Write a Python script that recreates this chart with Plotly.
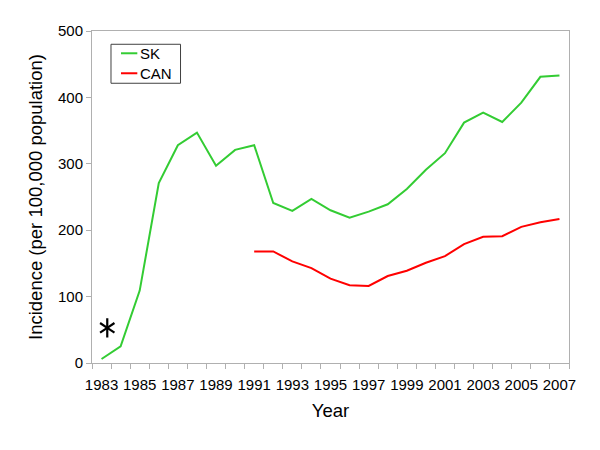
import plotly.graph_objects as go

years = list(range(1983, 2008))
sk = [6, 25, 109, 271, 328, 347, 297, 321, 328, 241, 229, 247, 230, 219, 228, 239,
      262, 291, 316, 362, 377, 363, 392, 431, 433]
can_years = list(range(1991, 2008))
can = [168, 168, 153, 143, 127, 117, 116, 131, 139, 151, 161, 179, 190, 191, 205, 212, 217]
star_x = [1983.3]
star_y = [53]
xtick_labels = [str(y) for y in range(1983, 2008, 2)]
ytick_vals = [0, 100, 200, 300, 400, 500]
series_names = ["SK", "CAN"]
series_colors = ["#33cc33", "#ff0000"]

font_family = "Liberation Sans, Arial, sans-serif"

fig = go.Figure()
fig.add_trace(go.Scatter(x=years, y=sk, mode="lines", name=series_names[0],
                         line=dict(color=series_colors[0], width=2)))
fig.add_trace(go.Scatter(x=can_years, y=can, mode="lines", name=series_names[1],
                         line=dict(color=series_colors[1], width=2)))
# six-armed asterisk: overlay of y-up and y-down symbols at the same point
for sym in ["y-up", "y-down"]:
    fig.add_trace(go.Scatter(x=star_x, y=star_y, mode="markers",
                             marker=dict(symbol=sym, size=12,
                                         line=dict(color="black", width=2.2))))

# manual legend (box, sample lines, labels)
fig.add_shape(type="rect", xref="paper", yref="paper", x0=0.0398, x1=0.1856,
              y0=0.8426, y1=0.960, line=dict(color="#404040", width=1), fillcolor="white")
for i, (nm, col) in enumerate(zip(series_names, series_colors)):
    yy = 0.9329 - i * 0.0602
    fig.add_shape(type="line", xref="paper", yref="paper", x0=0.0608, x1=0.0950,
                  y0=yy, y1=yy, line=dict(color=col, width=2))
    fig.add_annotation(xref="paper", yref="paper", x=0.0965, y=yy, text=nm,
                       showarrow=False, xanchor="left", yanchor="middle",
                       font=dict(size=15, color="black"))

fig.update_layout(
    width=584, height=434,
    margin=dict(l=84, r=23, t=23, b=79),
    plot_bgcolor="white", paper_bgcolor="white",
    font=dict(family=font_family, size=15, color="black"),
    showlegend=False,
)
fig.update_xaxes(
    range=[1982.5, 2007.5],
    tickmode="array", tickvals=list(range(1983, 2008, 2)), ticktext=xtick_labels,
    ticks="outside", ticklen=8, tickcolor="rgba(0,0,0,0)", showgrid=False, zeroline=False,
    showline=True, linecolor="#b0b0b0", linewidth=1, mirror=True,
    minor=dict(ticks="outside", ticklen=5, tickcolor="#b0b0b0", tick0=1982.5, dtick=1,
               showgrid=False),
    title=dict(text="Year", font=dict(size=18.5), standoff=12),
    tickfont=dict(size=15),
)
fig.update_yaxes(
    range=[0, 500], tickmode="array", tickvals=ytick_vals,
    ticks="outside", ticklen=5, tickcolor="#b0b0b0", showgrid=False, zeroline=False,
    showline=True, linecolor="#b0b0b0", linewidth=1, mirror=True,
    title=dict(text="Incidence (per 100,000 population)", font=dict(size=18.5), standoff=10),
    tickfont=dict(size=15),
)

fig.write_html("out.html")
